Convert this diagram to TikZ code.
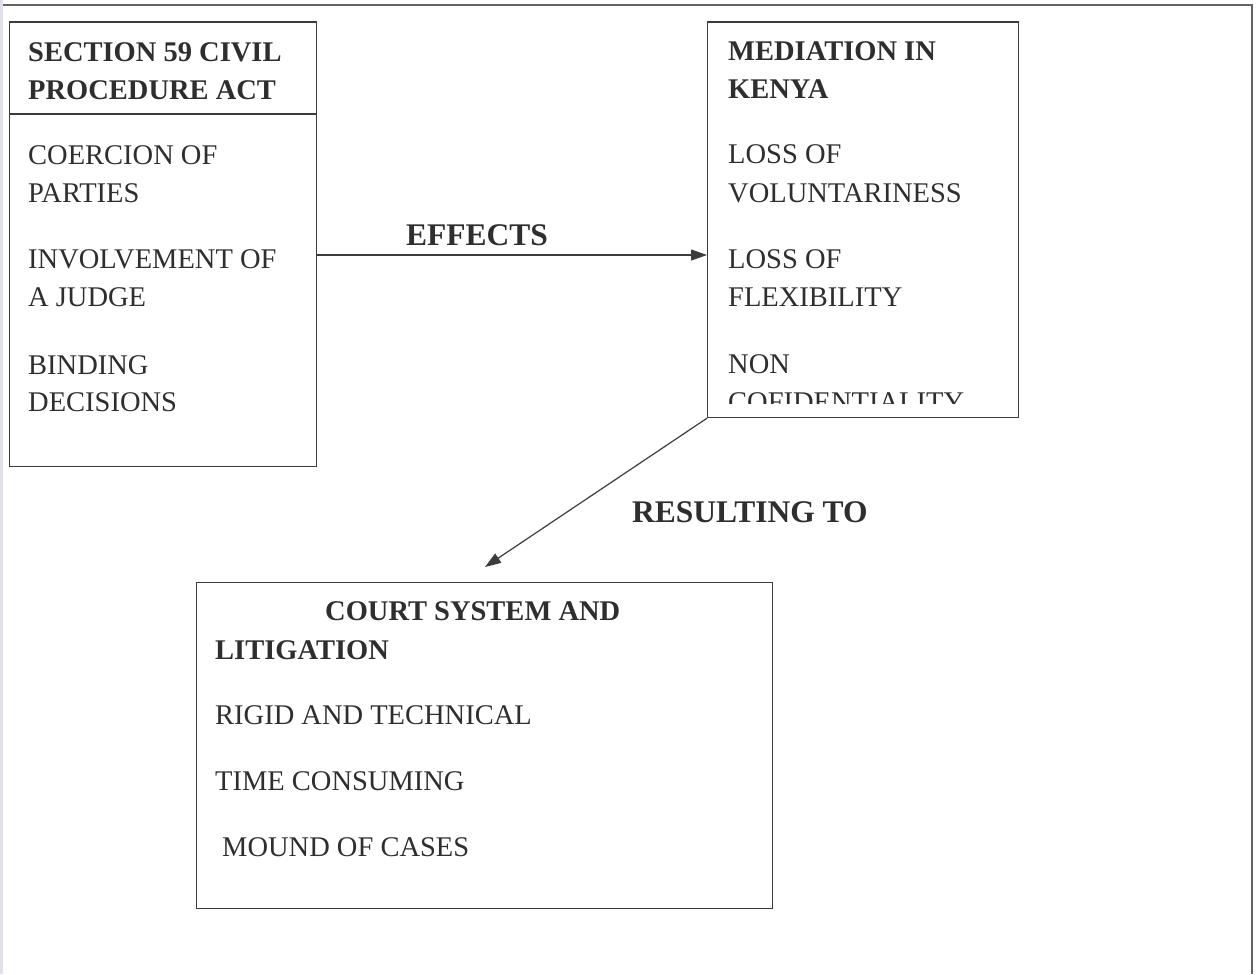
\documentclass[tikz,border=0pt]{standalone}
\usepackage{fontspec}
\setmainfont{Liberation Serif}
\usetikzlibrary{arrows.meta}
\definecolor{ink}{HTML}{2E2E2E}
\definecolor{rule}{HTML}{3C3C3C}
\begin{document}
\begin{tikzpicture}[x=1pt,y=-1pt,
  box/.style={draw=rule, line width=1.2pt, anchor=north west, inner sep=0pt},
  txt/.style={anchor=base west, inner sep=0pt, text=ink, font=\fontsize{28.5}{34}\selectfont},
  head/.style={txt, font=\fontsize{28.5}{34}\selectfont\bfseries},
  lab/.style={anchor=base west, inner sep=0pt, text=ink, font=\fontsize{31.5}{36}\selectfont\bfseries},
  arr/.style={draw=rule, line width=1.2pt, -{Triangle[length=16pt,width=11pt]}},
  frame/.style={draw=rule!80, line width=1.4pt}]
\useasboundingbox (0,0) rectangle (1260,974);
\fill[white] (0,0) rectangle (1260,974);
% page frame of the scan
\draw[frame] (0,5) -- (1252,5) -- (1252,974);
\draw[blue!20!gray!20, line width=3pt] (1.5,0) -- (1.5,974);

% boxes
\node[box, minimum width=307pt, minimum height=444pt] (b1) at (9,21.5) {};
\draw[draw=rule, line width=1.2pt] (b1.west |- 0,114) -- (b1.east |- 0,114);
\node[box, minimum width=311pt, minimum height=395.5pt] (b2) at (707,21.5) {};
\node[box, minimum width=576pt, minimum height=326pt] (b3) at (196,581.5) {};

% box 1 texts
\node[head] (h1a) at (28,61) {SECTION 59 CIVIL};
\node[head] (h1b) at (28,99) {PROCEDURE ACT};
\node[txt] (t1a) at (28,164) {COERCION OF};
\node[txt] (t1b) at (28,202) {PARTIES};
\node[txt] (t1c) at (28,268) {INVOLVEMENT OF};
\node[txt] (t1d) at (28,306) {A JUDGE};
\node[txt] (t1e) at (28,374) {BINDING};
\node[txt] (t1f) at (28,411) {DECISIONS};

% box 2 texts
\node[head] (h2a) at (728,60) {MEDIATION IN};
\node[head] (h2b) at (728,98) {KENYA};
\node[txt] (t2a) at (728,163) {LOSS OF};
\node[txt] (t2b) at (728,202) {VOLUNTARINESS};
\node[txt] (t2c) at (728,268) {LOSS OF};
\node[txt] (t2d) at (728,306) {FLEXIBILITY};
\node[txt] (t2e) at (728,373) {NON};
\begin{scope}
  \clip (700,380) rectangle (1020,403.5);
  \node[txt] (t2f) at (728,411) {COFIDENTIALITY};
\end{scope}

% box 3 texts
\node[head] (h3a) at (325,620) {COURT SYSTEM AND};
\node[head] (h3b) at (215,659) {LITIGATION};
\node[txt] (t3a) at (215,724) {RIGID AND TECHNICAL};
\node[txt] (t3b) at (215,790) {TIME CONSUMING};
\node[txt] (t3c) at (222,856) {MOUND OF CASES};

% connectors
\coordinate (ey) at (0,255);
\draw[arr] (b1.east |- ey) -- (b2.west |- ey);
\node[lab] (eff) at (406,245) {EFFECTS};
\coordinate (rtip) at (485,567);
\draw[arr] (b2.south west) -- (rtip);
\node[lab] (res) at (632,522) {RESULTING TO};
\end{tikzpicture}
\end{document}
